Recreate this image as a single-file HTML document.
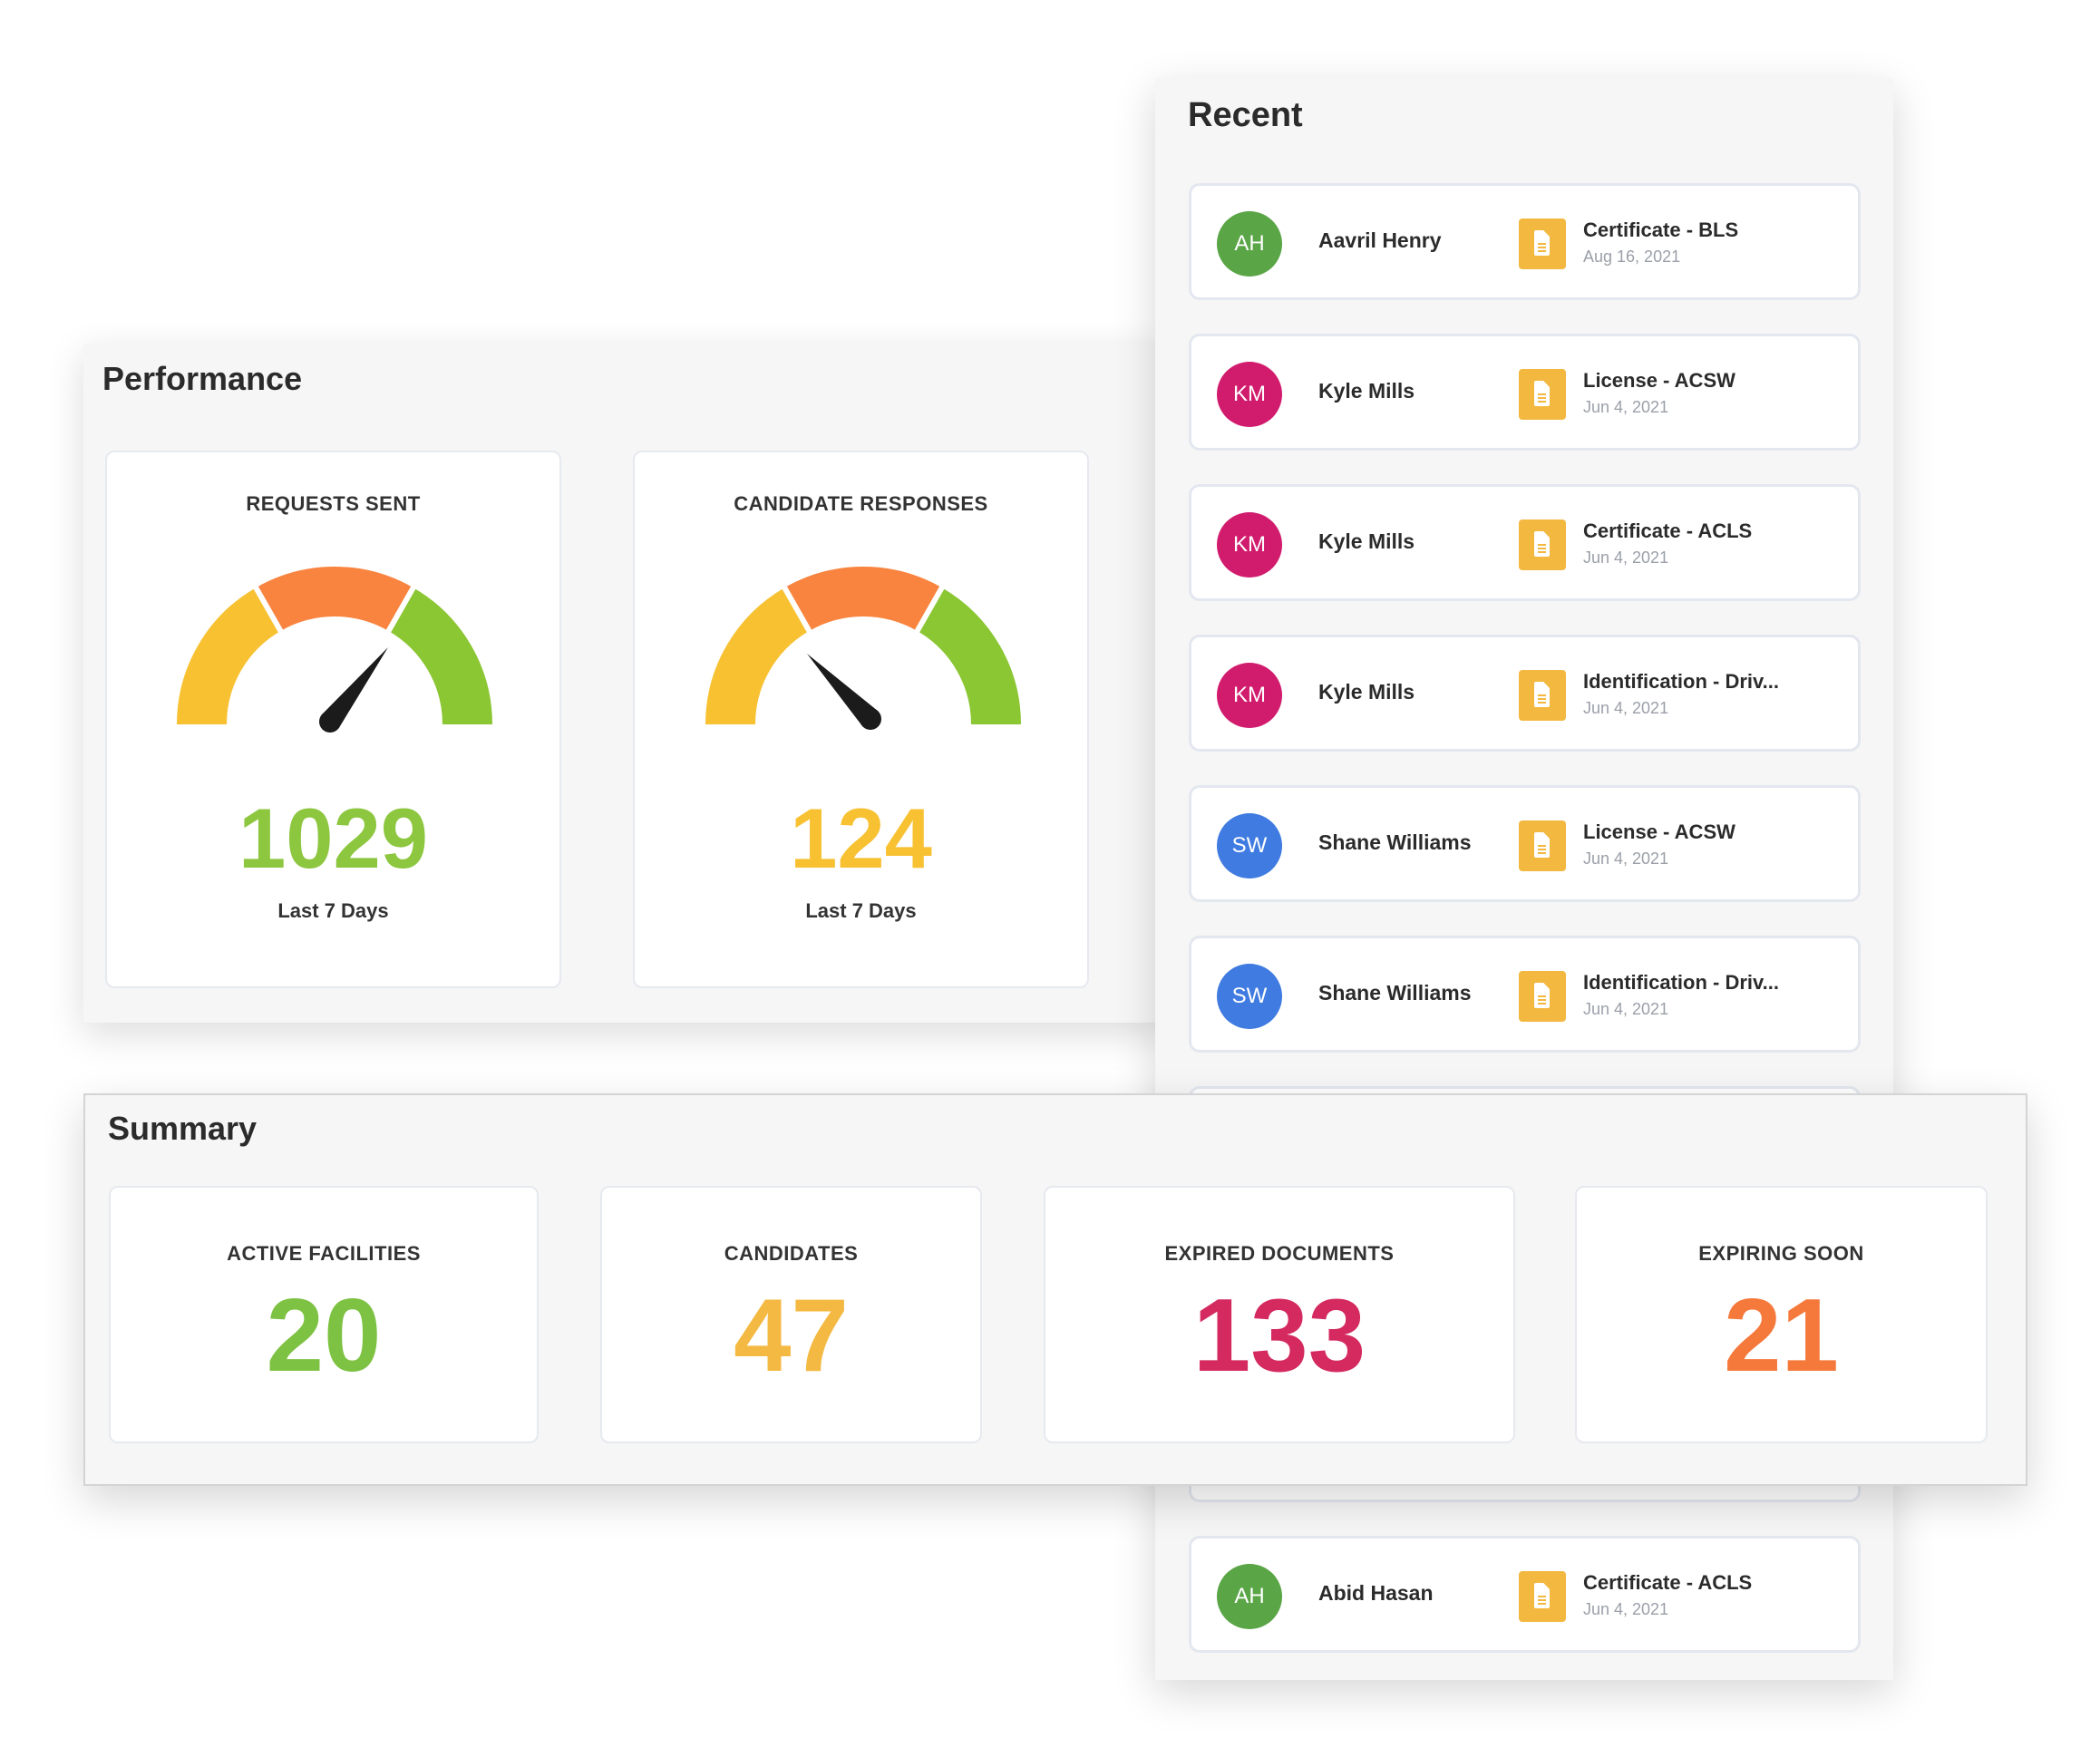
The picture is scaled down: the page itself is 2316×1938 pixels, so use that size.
<!DOCTYPE html>
<html><head><meta charset="utf-8"><style>
*{box-sizing:border-box;margin:0;padding:0}
body{width:2316px;height:1938px;background:#fff;position:relative;overflow:hidden;font-family:"Liberation Sans",sans-serif;color:#2b2b2b}
.panel{position:absolute;background:#f6f6f6}
.perf{left:92px;top:379px;width:1200px;height:749px;box-shadow:0 12px 40px rgba(0,0,0,.14);z-index:1}
.recent{left:1274px;top:86px;width:814px;height:1767px;box-shadow:0 14px 44px rgba(0,0,0,.16);z-index:2}
.summary{left:92px;top:1206px;width:2144px;height:433px;border:2px solid #d4d4d4;box-shadow:0 16px 44px rgba(0,0,0,.16);z-index:3}
.title{position:absolute;font-weight:bold;font-size:36px;color:#2b2b2b}
.card{position:absolute;background:#fff;border:2px solid #e6e9ef;border-radius:10px}
.lbl{position:absolute;left:0;right:0;text-align:center;font-weight:bold;font-size:22px;letter-spacing:.5px;color:#333}
.big{position:absolute;left:0;right:0;text-align:center;font-weight:bold}
.item{position:absolute;left:37px;width:741px;height:129px;background:#fff;border:3px solid #e3e7ef;border-radius:12px}
.av{position:absolute;left:28px;top:28px;width:72px;height:72px;border-radius:50%;color:#fff;font-size:24px;text-align:center;line-height:72px}
.nm{position:absolute;left:140px;top:47px;font-size:23px;font-weight:bold;color:#2b2b2b}
.doc{position:absolute;left:361px;top:36px;width:52px;height:56px;background:#f3b83f;border-radius:4px}
.doc:before{content:"";position:absolute;left:17px;top:13px;width:17px;height:28px;background:#fff;border-radius:2px;clip-path:polygon(0 0,60% 0,100% 25%,100% 100%,0 100%)}
.doc:after{content:"";position:absolute;left:21px;top:27px;width:9px;height:10px;background:repeating-linear-gradient(#f3b83f 0 2px,transparent 2px 4px)}
.dt{position:absolute;left:432px;top:36px;font-size:22px;font-weight:bold;color:#2b2b2b;white-space:nowrap}
.dd{position:absolute;left:432px;top:68px;font-size:18px;color:#9a9fa8}
</style></head><body>

<div class="panel perf">
  <div class="title" style="left:21px;top:18px">Performance</div>
  <div class="card" style="left:24px;top:118px;width:503px;height:593px">
    <div class="lbl" style="top:44px">REQUESTS SENT</div>
    <svg style="position:absolute;left:0;top:0" width="503" height="420">
      <g transform="translate(251,300)" fill="none" stroke-width="55">
        <path d="M -146.5 0 A 146.5 146.5 0 0 1 -73.25 -126.87" stroke="#f7c132"/>
        <path d="M -73.25 -126.87 A 146.5 146.5 0 0 1 73.25 -126.87" stroke="#f9843f"/>
        <path d="M 73.25 -126.87 A 146.5 146.5 0 0 1 146.5 0" stroke="#8bc633"/>
        <line x1="-55" y1="-95" x2="-92" y2="-160" stroke="#fff" stroke-width="6"/>
        <line x1="55" y1="-95" x2="92" y2="-160" stroke="#fff" stroke-width="6"/>
        <g transform="translate(-5,-3)" stroke="none" fill="#1b1b1b">
          <polygon points="64,-82 9.5,7.4 -9.5,-7.4"/>
          <circle cx="0" cy="0" r="12"/>
        </g>
      </g>
    </svg>
    <div class="big" style="top:372px;font-size:94px;color:#8dc63f">1029</div>
    <div class="lbl" style="top:493px;letter-spacing:0">Last 7 Days</div>
  </div>
  <div class="card" style="left:606px;top:118px;width:503px;height:593px">
    <div class="lbl" style="top:44px">CANDIDATE RESPONSES</div>
    <svg style="position:absolute;left:0;top:0" width="503" height="420">
      <g transform="translate(252,300)" fill="none" stroke-width="55">
        <path d="M -146.5 0 A 146.5 146.5 0 0 1 -73.25 -126.87" stroke="#f7c132"/>
        <path d="M -73.25 -126.87 A 146.5 146.5 0 0 1 73.25 -126.87" stroke="#f9843f"/>
        <path d="M 73.25 -126.87 A 146.5 146.5 0 0 1 146.5 0" stroke="#8bc633"/>
        <line x1="-55" y1="-95" x2="-92" y2="-160" stroke="#fff" stroke-width="6"/>
        <line x1="55" y1="-95" x2="92" y2="-160" stroke="#fff" stroke-width="6"/>
        <g transform="translate(8,-6)" stroke="none" fill="#1b1b1b">
          <polygon points="-70,-72 8.5,-8.5 -8.5,8.5"/>
          <circle cx="0" cy="0" r="12"/>
        </g>
      </g>
    </svg>
    <div class="big" style="top:372px;font-size:94px;color:#f7c132">124</div>
    <div class="lbl" style="top:493px;letter-spacing:0">Last 7 Days</div>
  </div>
</div>

<div class="panel recent">
  <div class="title" style="left:36px;top:20px;font-size:38px">Recent</div>
  <div class="item" style="top:116px"><div class="av" style="background:#5aa546">AH</div><div class="nm">Aavril Henry</div><div class="doc"></div><div class="dt">Certificate - BLS</div><div class="dd">Aug 16, 2021</div></div>
  <div class="item" style="top:282px"><div class="av" style="background:#d11c6e">KM</div><div class="nm">Kyle Mills</div><div class="doc"></div><div class="dt">License - ACSW</div><div class="dd">Jun 4, 2021</div></div>
  <div class="item" style="top:448px"><div class="av" style="background:#d11c6e">KM</div><div class="nm">Kyle Mills</div><div class="doc"></div><div class="dt">Certificate - ACLS</div><div class="dd">Jun 4, 2021</div></div>
  <div class="item" style="top:614px"><div class="av" style="background:#d11c6e">KM</div><div class="nm">Kyle Mills</div><div class="doc"></div><div class="dt">Identification - Driv...</div><div class="dd">Jun 4, 2021</div></div>
  <div class="item" style="top:780px"><div class="av" style="background:#3f7be0">SW</div><div class="nm">Shane Williams</div><div class="doc"></div><div class="dt">License - ACSW</div><div class="dd">Jun 4, 2021</div></div>
  <div class="item" style="top:946px"><div class="av" style="background:#3f7be0">SW</div><div class="nm">Shane Williams</div><div class="doc"></div><div class="dt">Identification - Driv...</div><div class="dd">Jun 4, 2021</div></div>
  <div class="item" style="top:1112px"></div>
  <div class="item" style="top:1278px"></div>
  <div class="item" style="top:1442px"></div>
  <div class="item" style="top:1608px"><div class="av" style="background:#5aa546">AH</div><div class="nm">Abid Hasan</div><div class="doc"></div><div class="dt">Certificate - ACLS</div><div class="dd">Jun 4, 2021</div></div>
</div>

<div class="panel summary">
  <div class="title" style="left:25px;top:16px">Summary</div>
  <div class="card" style="left:26px;top:100px;width:474px;height:284px"><div class="lbl" style="top:60px">ACTIVE FACILITIES</div><div class="big" style="top:98px;font-size:114px;color:#7dc242">20</div></div>
  <div class="card" style="left:568px;top:100px;width:421px;height:284px"><div class="lbl" style="top:60px">CANDIDATES</div><div class="big" style="top:98px;font-size:114px;color:#f4b942">47</div></div>
  <div class="card" style="left:1057px;top:100px;width:520px;height:284px"><div class="lbl" style="top:60px">EXPIRED DOCUMENTS</div><div class="big" style="top:98px;font-size:114px;color:#d42a5f">133</div></div>
  <div class="card" style="left:1643px;top:100px;width:455px;height:284px"><div class="lbl" style="top:60px">EXPIRING SOON</div><div class="big" style="top:98px;font-size:114px;color:#f4793b">21</div></div>
</div>
</body></html>
